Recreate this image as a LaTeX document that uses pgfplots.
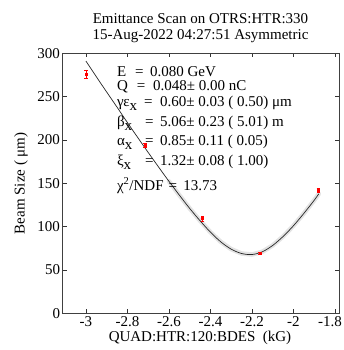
\documentclass[border=0pt]{standalone}
\usepackage{fontspec}
\setmainfont{Liberation Serif}
\usepackage{pgfplots}
\pgfplotsset{compat=1.18}
\newcommand{\fs}{\fontsize{15bp}{18bp}\selectfont}
\newcommand{\sub}[1]{\raisebox{-0.55ex}{#1}}
\begin{document}
\begin{tikzpicture}
\path[use as bounding box] (-62.7bp,-36.7bp) rectangle (281.3bp,313.3bp);
\begin{axis}[
  at={(0,0)}, anchor=south west,
  width=276.6bp, height=260bp, scale only axis,
  xmin=-3.112, xmax=-1.779, ymin=0, ymax=300,
  xtick={-3,-2.8,-2.6,-2.4,-2.2,-2,-1.8},
  xticklabels={-3,-2.8,-2.6,-2.4,-2.2,-2,{\hspace*{-10bp}-1.8}},
  ytick={0,50,100,150,200,250,300},
  tick align=inside, major tick length=4bp,
  tick style={black!80, line width=0.6bp},
  axis line style={black!75, line width=0.8bp},
  /pgf/number format/assume math mode=true,
  xticklabel style={font=\fs, inner sep=0pt, anchor=north, yshift=-3.5bp},
  yticklabel style={font=\fs, inner sep=0pt, anchor=east, xshift=-2.5bp},
  clip=false,
]
% uncertainty band
\addplot[gray!22, line width=4.5bp, line cap=round, line join=round] coordinates {
(-2.60,152.3) (-2.55,136.4) (-2.50,121.0) (-2.45,106.8) (-2.40,93.6) (-2.35,82.4)
(-2.30,74.0) (-2.25,69.0) (-2.20,67.8) (-2.15,71.0) (-2.10,78.3) (-2.05,88.6)
(-2.00,101.0) (-1.95,115.2) (-1.90,130.4) (-1.878,137.8)};
% fit
\addplot[black!85, line width=0.7bp, smooth] coordinates {
(-3.00,291.0) (-2.95,273.0) (-2.90,255.3) (-2.85,237.8) (-2.80,220.0) (-2.75,202.7)
(-2.70,185.6) (-2.65,168.8) (-2.60,152.3) (-2.55,136.4) (-2.50,121.0) (-2.45,106.8)
(-2.40,93.6) (-2.35,82.4) (-2.30,74.0) (-2.25,69.0) (-2.20,67.8) (-2.15,71.0)
(-2.10,78.3) (-2.05,88.6) (-2.00,101.0) (-1.95,115.2) (-1.90,130.4) (-1.878,137.8)};
% data
\addplot[red, only marks, mark=square*, mark size=1.1bp,
  error bars/.cd, y dir=both, y explicit,
  error bar style={red, line width=0.6bp}, error mark options={red, mark size=1.8bp, rotate=90}]
 coordinates {
(-3.000,275.8) +- (0,4.4)
(-2.716,193.8) +- (0,2.0)
(-2.438,109.3) +- (0,2.8)
(-2.161,69.2) +- (0,1.5)
(-1.880,142.3) +- (0,2.0)};
% annotations
\node[font=\fs, anchor=base west, inner sep=0] at (axis cs:-2.851,273.8) {E};
\node[font=\fs, anchor=base west, inner sep=0] at (axis cs:-2.764,273.8) {=};
\node[font=\fs, anchor=base west, inner sep=0] at (axis cs:-2.692,273.8) {0.080 GeV};
\node[font=\fs, anchor=base west, inner sep=0] at (axis cs:-2.851,256.6) {Q};
\node[font=\fs, anchor=base west, inner sep=0] at (axis cs:-2.756,256.6) {=};
\node[font=\fs, anchor=base west, inner sep=0] at (axis cs:-2.677,256.6) {0.048± 0.00 nC};
\node[font=\fs, anchor=base west, inner sep=0] at (axis cs:-2.851,238.4) {γε\sub{x}};
\node[font=\fs, anchor=base west, inner sep=0] at (axis cs:-2.720,238.4) {=};
\node[font=\fs, anchor=base west, inner sep=0] at (axis cs:-2.643,238.4) {0.60± 0.03 ( 0.50) μm};
\node[font=\fs, anchor=base west, inner sep=0] at (axis cs:-2.851,215.6) {β\sub{x}};
\node[font=\fs, anchor=base west, inner sep=0] at (axis cs:-2.716,215.6) {=};
\node[font=\fs, anchor=base west, inner sep=0] at (axis cs:-2.643,215.6) {5.06± 0.23 ( 5.01) m};
\node[font=\fs, anchor=base west, inner sep=0] at (axis cs:-2.851,193.2) {α\sub{x}};
\node[font=\fs, anchor=base west, inner sep=0] at (axis cs:-2.716,193.2) {=};
\node[font=\fs, anchor=base west, inner sep=0] at (axis cs:-2.643,193.2) {0.85± 0.11 ( 0.05)};
\node[font=\fs, anchor=base west, inner sep=0] at (axis cs:-2.851,170.6) {ξ\sub{x}};
\node[font=\fs, anchor=base west, inner sep=0] at (axis cs:-2.716,170.6) {=};
\node[font=\fs, anchor=base west, inner sep=0] at (axis cs:-2.643,170.6) {1.32± 0.08 ( 1.00)};
\node[font=\fs, anchor=base west, inner sep=0] at (axis cs:-2.851,142.2) {χ\textsuperscript{2}/NDF};
\node[font=\fs, anchor=base west, inner sep=0] at (axis cs:-2.603,142.2) {=};
\node[font=\fs, anchor=base west, inner sep=0] at (axis cs:-2.532,142.2) {13.73};
\end{axis}
\node[font=\fs, anchor=base] at (137.8bp,289.3bp) {Emittance Scan on OTRS:HTR:330};
\node[font=\fs, anchor=base] at (137.8bp,273.3bp) {15-Aug-2022 04:27:51 Asymmetric};
\node[font=\fs, anchor=base, inner sep=0pt] at (137.3bp,-28.5bp) {QUAD:HTR:120:BDES\ \ (kG)};
\node[font=\fs, rotate=90, anchor=center, inner sep=0pt] at (-41.7bp,130bp) {Beam Size ( μm)};
\end{tikzpicture}
\end{document}
